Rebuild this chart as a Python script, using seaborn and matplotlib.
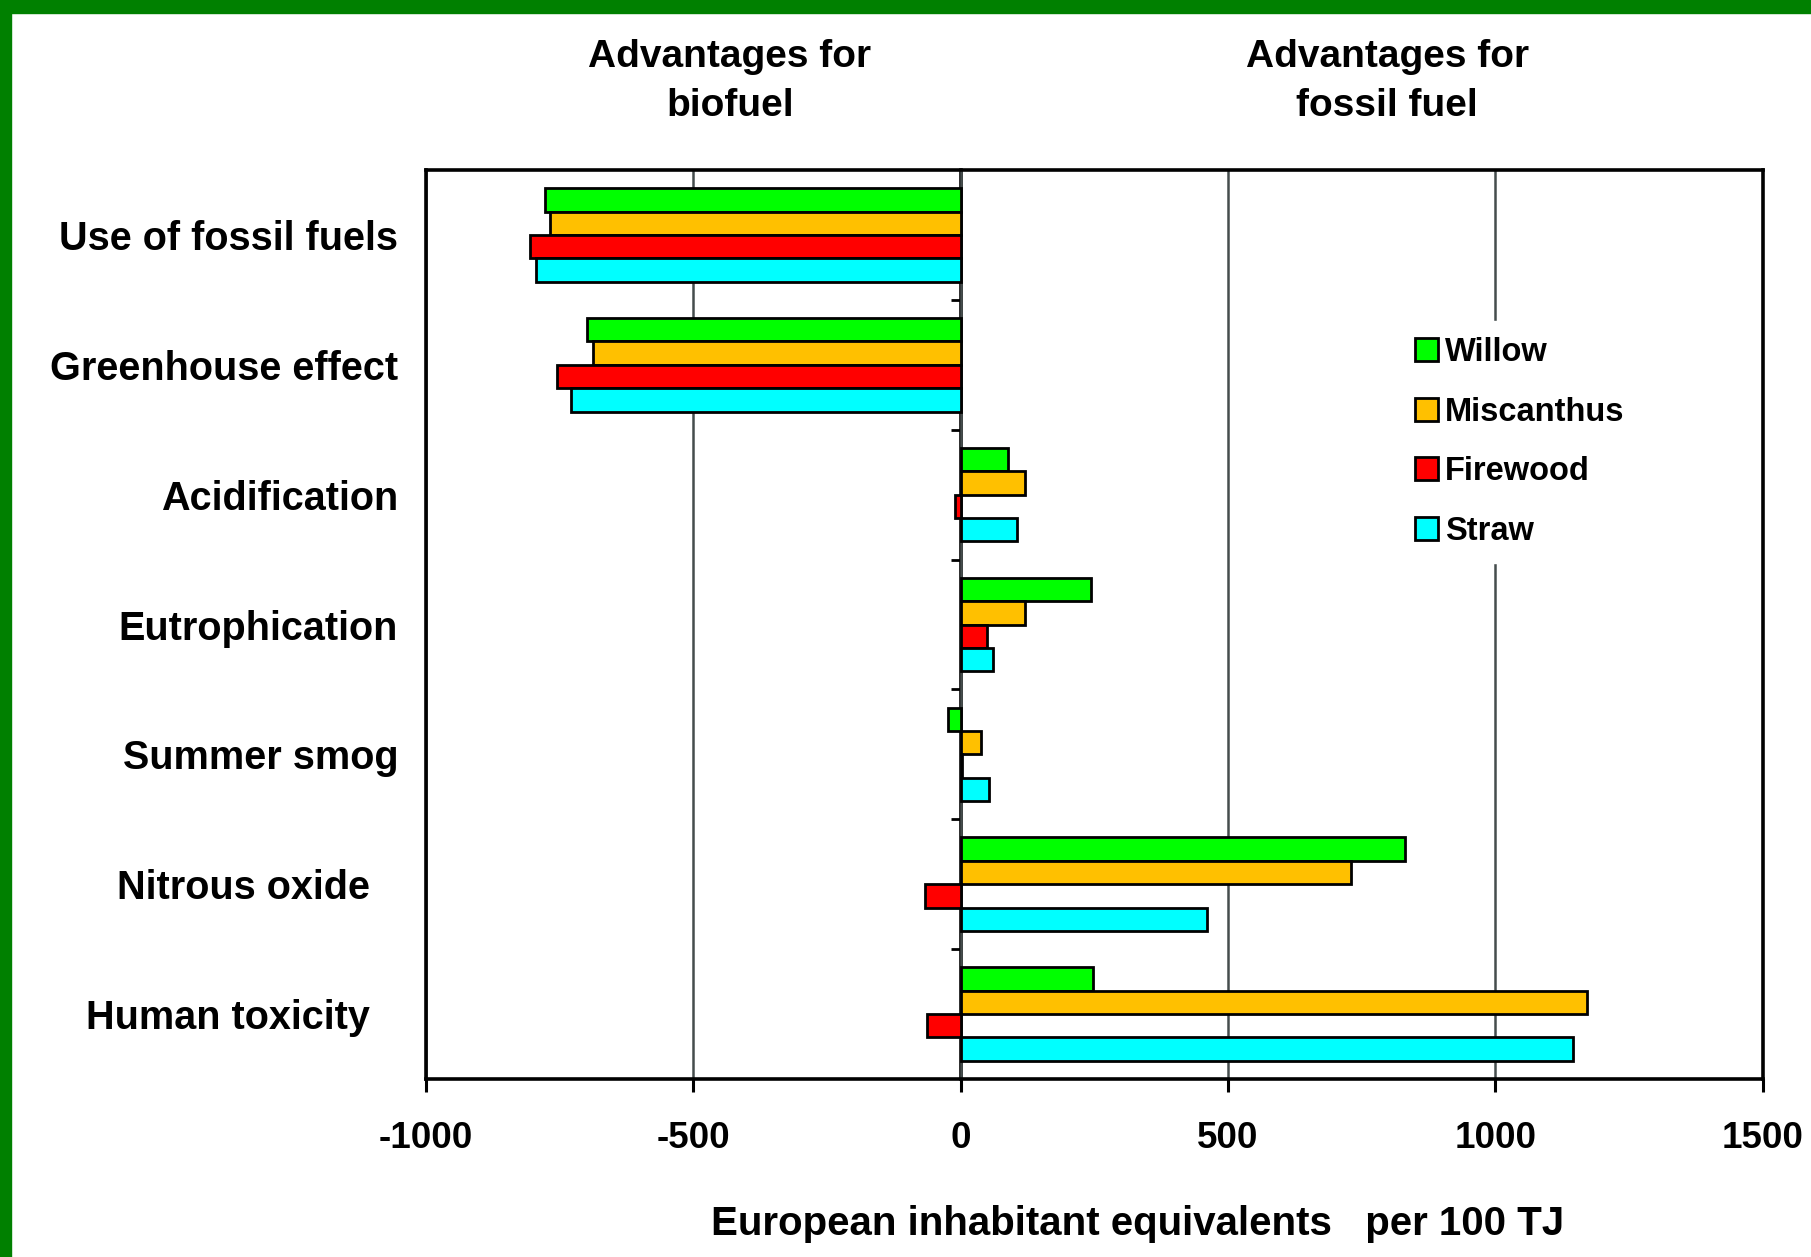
import pandas as pd
import matplotlib.pyplot as plt
import matplotlib.transforms as mtransforms
from matplotlib.patches import Rectangle
import seaborn as sns

# values (European inhabitant equivalents per 100 TJ)
categories = ["Use of fossil fuels", "Greenhouse effect", "Acidification",
              "Eutrophication", "Summer smog", "Nitrous oxide", "Human toxicity"]
fuels = ["Willow", "Miscanthus", "Firewood", "Straw"]
willow = [-777, -699, 88, 243, -24, 832, 248]
miscanthus = [-768, -688, 120, 121, 39, 730, 1171]
firewood = [-805, -755, -11, 50, 3, -67, -62]
straw = [-794, -729, 105, 61, 54, 460, 1146]
xticks = [-1000, -500, 0, 500, 1000, 1500]

colors = ["#00FF00", "#FFC000", "#FF0000", "#00FFFF"]

sns.set_theme(style="white")
plt.rcParams['font.family'] = ['Liberation Sans', 'DejaVu Sans']
plt.rcParams['font.weight'] = 'bold'
plt.rcParams['text.color'] = 'black'
plt.rcParams['axes.labelcolor'] = 'black'
plt.rcParams['xtick.color'] = 'black'
plt.rcParams['ytick.color'] = 'black'

df = pd.DataFrame({
    "category": categories * 4,
    "fuel": [f for f in fuels for _ in categories],
    "value": willow + miscanthus + firewood + straw,
})

fig = plt.figure(figsize=(18.11, 12.57), dpi=100, facecolor="white")
ax = fig.add_axes([0.2352, 0.1416, 0.9733 - 0.2352, 0.8647 - 0.1416])

ax.set_axisbelow(True)
sns.barplot(data=df, y="category", x="value", hue="fuel", orient="h",
            order=categories, hue_order=fuels, palette=colors, width=0.72,
            edgecolor="black", linewidth=2, saturation=1, ax=ax)

ax.set_xlim(-1000, 1500)
ax.set_ylim(6.5, -0.5)
ax.set_xticks(xticks)
ax.set_xticklabels([str(t) for t in xticks])
ax.xaxis.grid(True, color="#454d4d", linewidth=1.8)
ax.yaxis.grid(False)

for s in ax.spines.values():
    s.set_visible(True)
    s.set_color("black")
    s.set_linewidth(2.6)

ax.tick_params(axis="x", direction="out", length=9, width=2.2, color="black",
               labelsize=26.5, pad=21, bottom=True)
ax.tick_params(axis="y", length=0, labelsize=28.5, pad=20)
ax.set_ylabel("")
for lab in ax.get_yticklabels():
    lab.set_fontweight("bold")
    if lab.get_text() in ("Nitrous oxide", "Human toxicity"):
        lab.set_transform(lab.get_transform() + mtransforms.ScaledTranslation(-0.28, 0, fig.dpi_scale_trans))
for lab in ax.get_xticklabels():
    lab.set_fontweight("bold")

# zero line with category separator ticks (Excel style axis crossing at 0)
sec = ax.secondary_yaxis(0.4)
sec.set_alignment("left")
sec.set_yticks([i + 0.5 for i in range(len(categories) - 1)])
sec.tick_params(direction="out", length=7, width=2, labelleft=False, labelright=False)
sec.spines["left"].set_linewidth(2.6)
sec.spines["left"].set_color("black")

ax.set_xlabel("European inhabitant equivalents   per 100 TJ", fontsize=29, fontweight="bold")
ax.xaxis.set_label_coords(0.5325, -0.16)
ax.xaxis.label.set_va("center")

handles, labels = ax.get_legend_handles_labels()
leg = ax.legend(handles, labels, loc="upper left", bbox_to_anchor=(0.7725, 0.745),
                bbox_transform=fig.transFigure, frameon=True, framealpha=1,
                edgecolor="white", fontsize=23.5, handlelength=0.7, handleheight=0.7,
                handletextpad=0.2, labelspacing=0.88, borderpad=0.5, borderaxespad=0,
                fancybox=False)
for t in leg.get_texts():
    t.set_fontweight("bold")

fig.text(0.403, 0.935, "Advantages for\nbiofuel", ha="center", va="center",
         fontsize=28, fontweight="bold", linespacing=1.45)
fig.text(0.766, 0.935, "Advantages for\nfossil fuel", ha="center", va="center",
         fontsize=28, fontweight="bold", linespacing=1.45)

# green frame strips on top and left edge
fig.add_artist(Rectangle((0, 1 - 13 / 1257), 1, 13 / 1257, transform=fig.transFigure,
                         color="#008000", zorder=10))
fig.add_artist(Rectangle((0, 0), 11 / 1811, 1, transform=fig.transFigure,
                         color="#008000", zorder=10))

fig.savefig("out.png", dpi=100)
